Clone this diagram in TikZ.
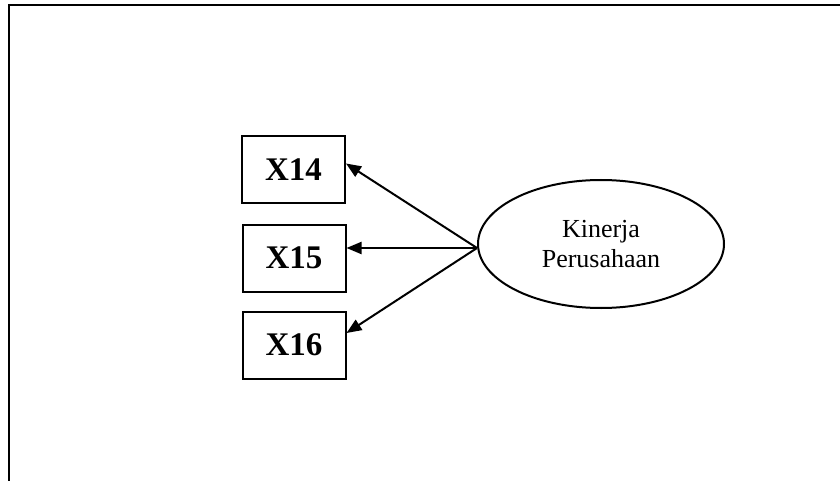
\documentclass[tikz,border=0pt]{standalone}
\usepackage{fontspec}
\setmainfont{Liberation Serif}
\usetikzlibrary{arrows.meta}
\usetikzlibrary{shapes.geometric}

\tikzset{
  indikator/.style={draw, line width=2pt, minimum width=103pt, minimum height=67pt,
    inner sep=0pt, font=\fontsize{33}{38}\selectfont\bfseries},
  laten/.style={draw, ellipse, line width=2pt, minimum width=246pt, minimum height=128pt,
    inner sep=0pt, align=center, font=\fontsize{26}{30}\selectfont},
  panah/.style={line width=2pt, -{Triangle[length=15pt,width=12pt]}}
}

\begin{document}
\begin{tikzpicture}[x=1pt,y=-1pt]
  \useasboundingbox (0,0) rectangle (840,481);
  % frame
  \draw[line width=2pt] (9,481) -- (9,5) -- (840,5);

  \node[indikator] (x14) at (293.5,169.5) {X14};
  \node[indikator] (x15) at (294,258) {X15};
  \node[indikator] (x16) at (294,345) {X16};

  \node[laten] (kinerja) at (601,244) {Kinerja\\Perusahaan};
  \coordinate (asal) at ([yshift=-4pt]kinerja.west);

  \draw[panah] (asal) -- ([yshift=6pt]x14.east);
  \draw[panah] (asal) -- ([yshift=10pt]x15.east);
  \draw[panah] (asal) -- ([yshift=12pt]x16.east);
\end{tikzpicture}
\end{document}
